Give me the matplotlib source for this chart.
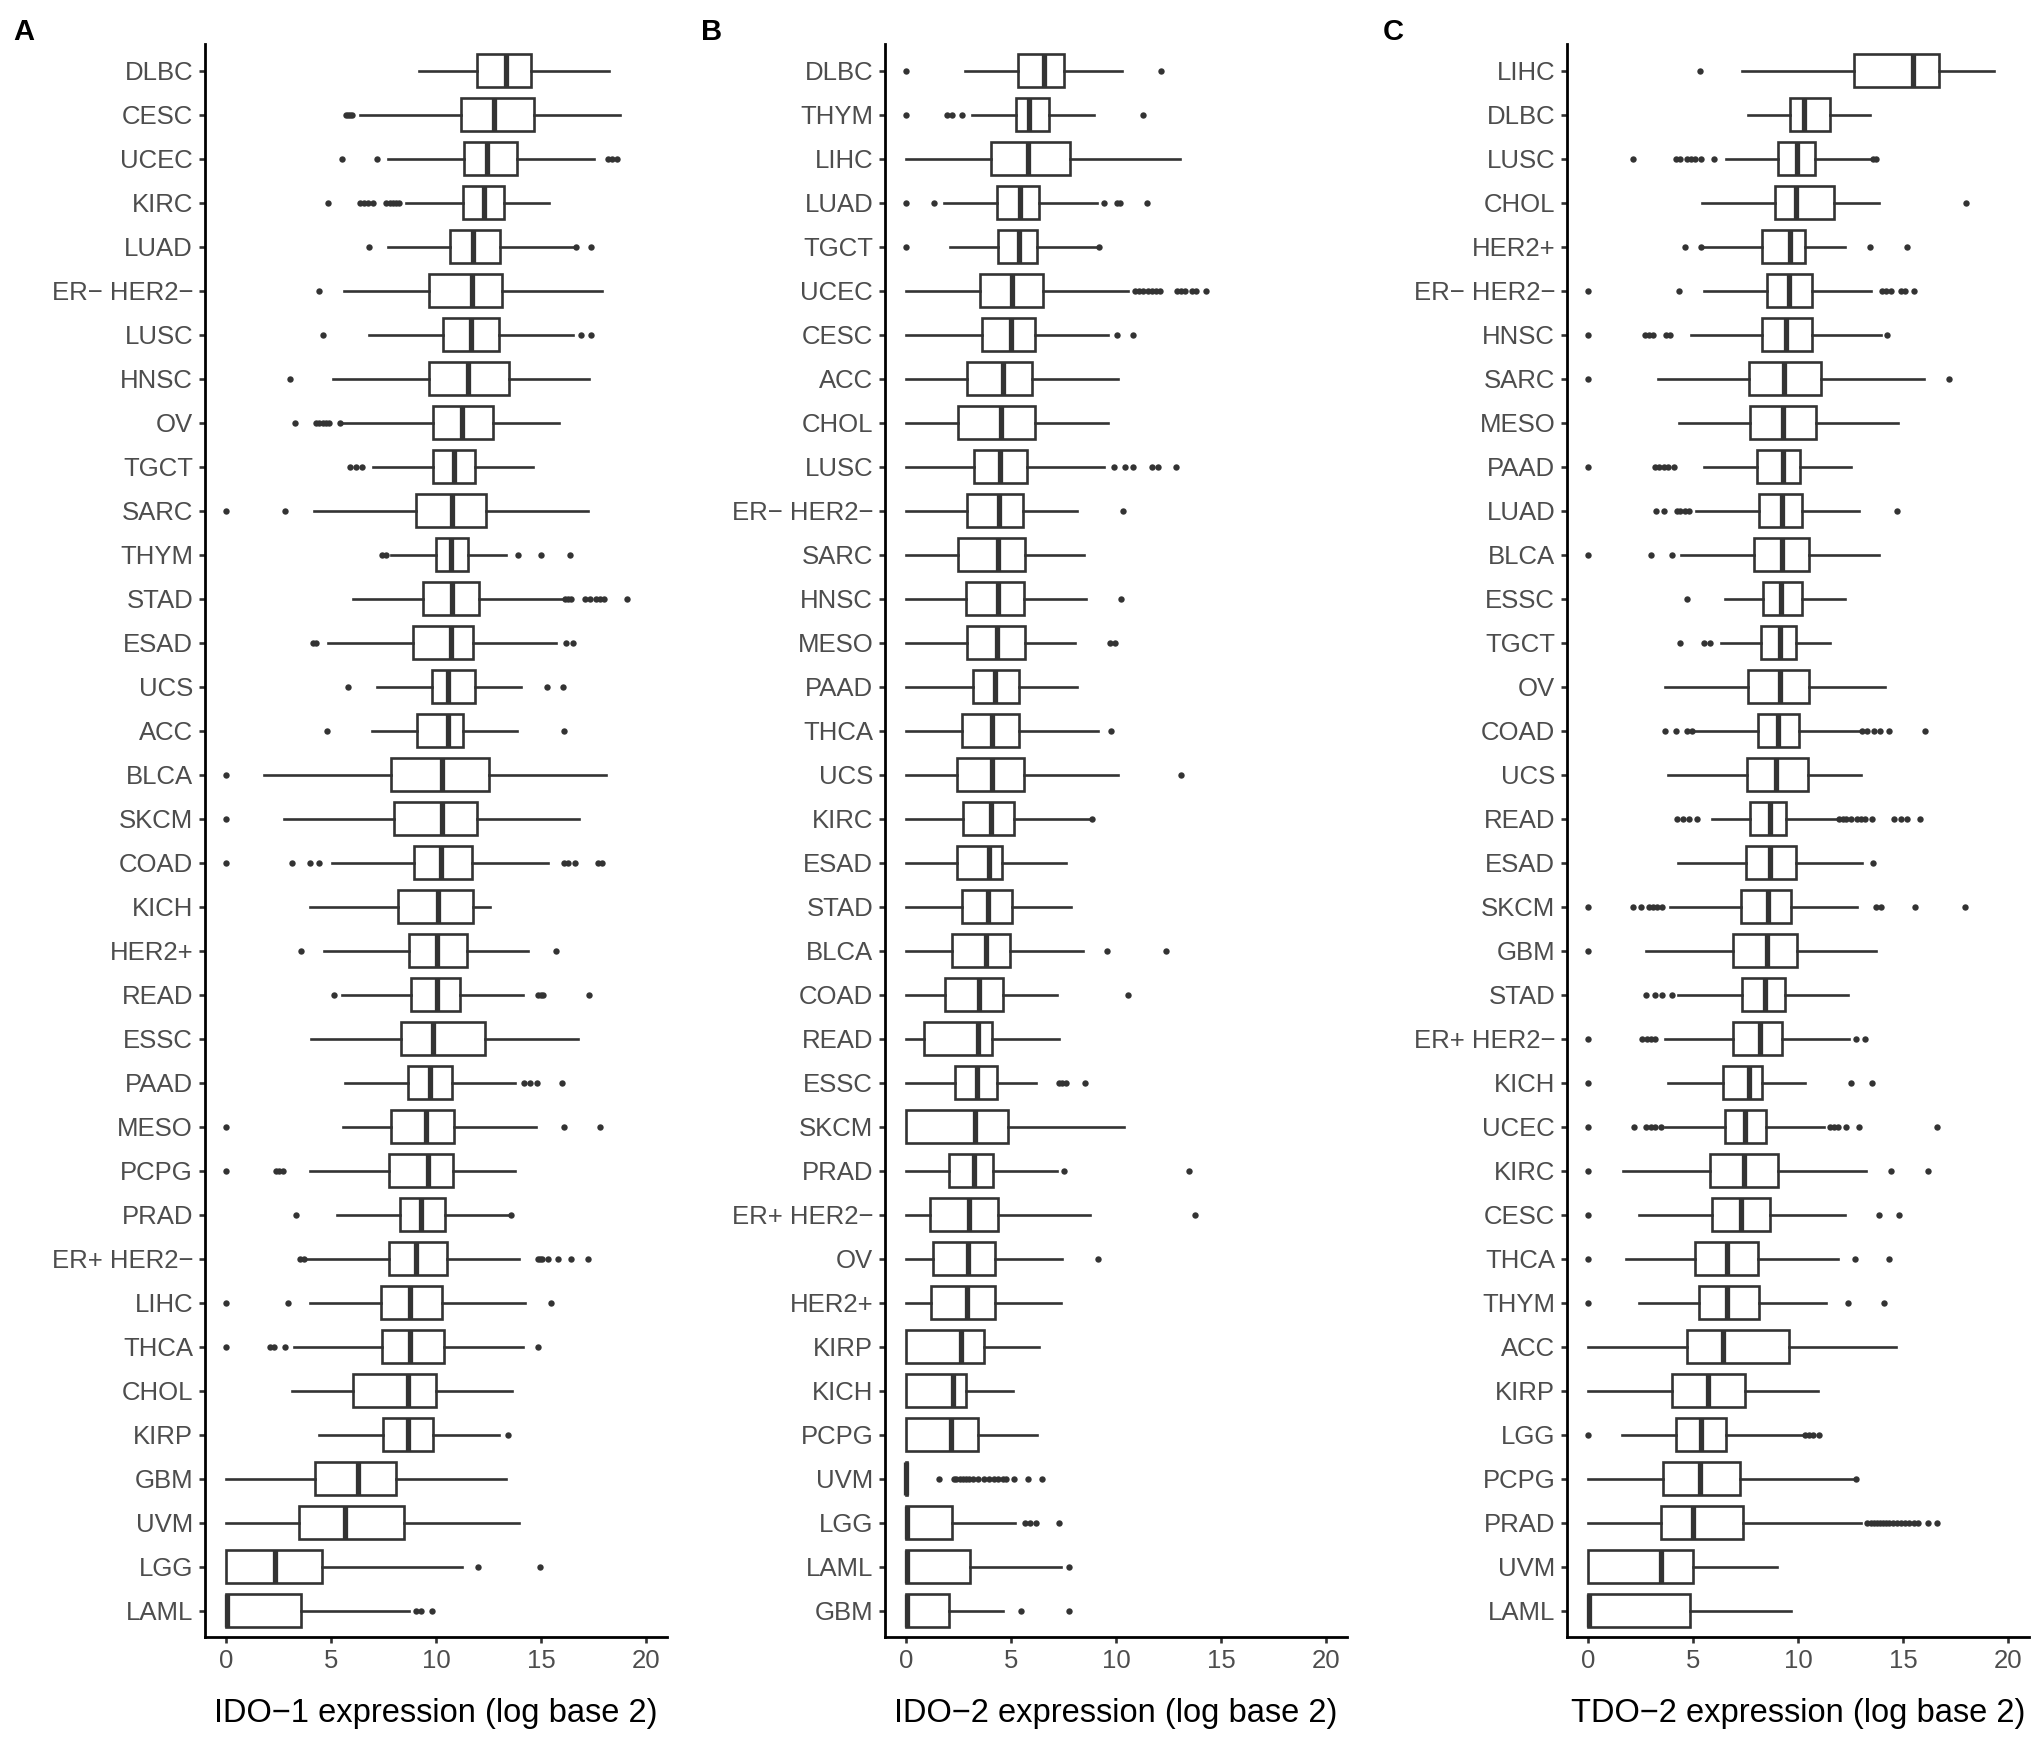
import matplotlib
matplotlib.use('Agg')
import matplotlib.pyplot as plt

plt.rcParams['font.family'] = ['Liberation Sans', 'DejaVu Sans']

# ======================
# data, categories listed top to bottom
# ======================
m = '\u2212'

# --- A: IDO-1 ---
cats_a = ['DLBC', 'CESC', 'UCEC', 'KIRC', 'LUAD', f'ER{m} HER2{m}', 'LUSC', 'HNSC', 'OV', 'TGCT',
          'SARC', 'THYM', 'STAD', 'ESAD', 'UCS', 'ACC', 'BLCA', 'SKCM', 'COAD', 'KICH',
          'HER2+', 'READ', 'ESSC', 'PAAD', 'MESO', 'PCPG', 'PRAD', f'ER+ HER2{m}', 'LIHC', 'THCA',
          'CHOL', 'KIRP', 'GBM', 'UVM', 'LGG', 'LAML']
lo_a = [9.18, 6.36, 7.7, 8.57, 7.7, 5.63, 6.81, 5.1, 5.57, 7.0, 4.19, 7.84, 6.05, 4.87, 7.2, 6.96,
        1.8, 2.75, 5.04, 3.98, 4.69, 5.53, 4.07, 5.68, 5.59, 4.02, 5.29, 3.71, 3.98, 3.25, 3.13, 4.44,
        0, 0, 0, 0]
q1_a = [11.95, 11.2, 11.35, 11.29, 10.65, 9.68, 10.34, 9.68, 9.87, 9.85, 9.04, 10.01, 9.39, 8.92,
        9.8, 9.08, 7.84, 8.0, 8.94, 8.17, 8.73, 8.83, 8.32, 8.65, 7.88, 7.75, 8.29, 7.77, 7.38, 7.42,
        6.04, 7.46, 4.25, 3.46, 0, 0]
med_a = [13.31, 12.76, 12.42, 12.28, 11.74, 11.7, 11.68, 11.52, 11.23, 10.86, 10.75, 10.73, 10.75,
         10.71, 10.57, 10.57, 10.3, 10.3, 10.22, 10.09, 10.03, 10.03, 9.85, 9.72, 9.51, 9.6, 9.29,
         9.06, 8.77, 8.77, 8.65, 8.65, 6.29, 5.67, 2.33, 0.05]
q3_a = [14.51, 14.67, 13.87, 13.25, 13.07, 13.15, 13.02, 13.46, 12.71, 11.85, 12.4, 11.52, 12.07,
        11.76, 11.87, 11.31, 12.53, 11.97, 11.7, 11.74, 11.5, 11.15, 12.32, 10.77, 10.84, 10.79,
        10.42, 10.52, 10.31, 10.4, 10.02, 9.85, 8.1, 8.46, 4.56, 3.56]
hi_a = [18.22, 18.78, 17.54, 15.38, 16.51, 17.92, 16.51, 17.28, 15.85, 14.61, 17.23, 13.35, 16.1,
        15.73, 14.06, 13.85, 18.1, 16.82, 15.31, 12.59, 14.39, 14.16, 16.78, 13.77, 14.74, 13.75,
        13.5, 13.96, 14.25, 14.15, 13.6, 13.02, 13.31, 13.96, 11.25, 8.71]
out_a = [[], [5.7, 5.8, 5.9, 6.0], [5.51, 7.18, 18.2, 18.4, 18.6],
         [4.85, 6.36, 6.55, 6.75, 7.0, 7.6, 7.8, 7.95, 8.1, 8.25], [6.83, 16.68, 17.38], [4.42],
         [4.64, 16.92, 17.38], [3.03], [3.28, 4.3, 4.45, 4.6, 4.75, 4.9, 5.45], [5.9, 6.2, 6.5],
         [0, 2.83], [7.43, 7.6, 13.89, 15.0, 16.37],
         [16.15, 16.3, 16.45, 17.1, 17.35, 17.6, 17.8, 18.0, 19.1], [4.15, 4.3, 16.2, 16.5],
         [5.82, 15.27, 16.06], [4.83, 16.1], [0], [0],
         [0, 3.14, 4.02, 4.44, 16.1, 16.3, 16.6, 17.7, 17.9], [], [3.57, 15.73],
         [5.14, 14.86, 15.0, 15.1, 17.28], [], [14.18, 14.49, 14.82, 16.02], [0, 16.1, 17.81],
         [0, 2.4, 2.55, 2.7], [3.33, 13.55],
         [3.55, 3.7, 14.85, 14.95, 15.05, 15.33, 15.83, 16.42, 17.25], [0, 2.96, 15.46],
         [0, 2.1, 2.3, 2.83, 14.85], [], [13.42], [], [], [12.02, 14.96], [9.06, 9.27, 9.8]]

# --- B: IDO-2 ---
cats_b = ['DLBC', 'THYM', 'LIHC', 'LUAD', 'TGCT', 'UCEC', 'CESC', 'ACC', 'CHOL', 'LUSC',
          f'ER{m} HER2{m}', 'SARC', 'HNSC', 'MESO', 'PAAD', 'THCA', 'UCS', 'KIRC', 'ESAD', 'STAD',
          'BLCA', 'COAD', 'READ', 'ESSC', 'SKCM', 'PRAD', f'ER+ HER2{m}', 'OV', 'HER2+', 'KIRP',
          'KICH', 'PCPG', 'UVM', 'LGG', 'LAML', 'GBM']
lo_b = [2.82, 3.14, 0, 1.79, 2.08, 0, 0, 0, 0, 0, 0, 0, 0, 0, 0, 0, 0, 0, 0, 0,
        0, 0, 0, 0, 0, 0, 0, 0, 0, 0, 0, 0, 0, 0, 0, 0]
q1_b = [5.32, 5.23, 4.07, 4.34, 4.36, 3.51, 3.63, 2.91, 2.47, 3.22, 2.91, 2.49, 2.87, 2.89, 3.18,
        2.68, 2.45, 2.72, 2.41, 2.66, 2.18, 1.85, 0.87, 2.33, 0, 2.04, 1.16, 1.31, 1.18, 0, 0, 0,
        0, 0, 0, 0]
med_b = [6.56, 5.88, 5.82, 5.44, 5.38, 5.05, 5.0, 4.61, 4.53, 4.49, 4.44, 4.4, 4.36, 4.34, 4.24,
         4.11, 4.09, 4.07, 3.95, 3.9, 3.82, 3.47, 3.41, 3.36, 3.3, 3.22, 2.99, 2.95, 2.91, 2.6,
         2.26, 2.16, 0, 0.05, 0.05, 0.05]
q3_b = [7.54, 6.79, 7.83, 6.33, 6.25, 6.52, 6.13, 5.98, 6.13, 5.75, 5.59, 5.65, 5.63, 5.65, 5.36,
        5.36, 5.63, 5.13, 4.57, 5.07, 4.94, 4.63, 4.11, 4.34, 4.86, 4.13, 4.4, 4.24, 4.24, 3.72,
        2.85, 3.41, 0.05, 2.18, 3.07, 2.04]
hi_b = [10.28, 8.95, 13.06, 9.1, 9.16, 10.55, 9.6, 10.09, 9.64, 9.41, 8.16, 8.47, 8.56, 8.04,
        8.12, 9.14, 10.09, 8.83, 7.64, 7.87, 8.43, 7.19, 7.27, 6.17, 10.38, 7.19, 8.76, 7.44, 7.39,
        6.33, 5.09, 6.23, 0.05, 5.21, 7.39, 4.63]
out_b = [[0, 12.13], [0, 1.95, 2.2, 2.66, 11.3], [], [0, 1.33, 9.41, 10.03, 10.2, 11.46],
         [0, 9.2], [10.9, 11.1, 11.3, 11.5, 11.7, 11.9, 12.1, 12.9, 13.1, 13.3, 13.6, 13.8, 14.3],
         [10.03, 10.82], [], [], [9.89, 10.45, 10.82, 11.69, 12.0, 12.84], [10.34], [],
         [10.22], [9.72, 9.97], [], [9.74], [13.08], [8.87], [], [], [9.57, 12.36], [10.57], [],
         [7.29, 7.45, 7.64, 8.52], [], [7.5, 13.46], [13.75], [9.14], [], [], [], [],
         [1.56, 2.28, 2.4, 2.55, 2.7, 2.85, 3.0, 3.2, 3.45, 3.7, 3.95, 4.2, 4.4, 4.6, 4.75, 5.15,
          5.82, 6.46],
         [5.67, 5.9, 6.19, 7.29], [7.77], [5.46, 7.75]]

# --- C: TDO-2 ---
cats_c = ['LIHC', 'DLBC', 'LUSC', 'CHOL', 'HER2+', f'ER{m} HER2{m}', 'HNSC', 'SARC', 'MESO', 'PAAD',
          'LUAD', 'BLCA', 'ESSC', 'TGCT', 'OV', 'COAD', 'UCS', 'READ', 'ESAD', 'SKCM', 'GBM',
          'STAD', f'ER+ HER2{m}', 'KICH', 'UCEC', 'KIRC', 'CESC', 'THCA', 'THYM', 'ACC', 'KIRP',
          'LGG', 'PCPG', 'PRAD', 'UVM', 'LAML']
lo_c = [7.31, 7.6, 6.56, 5.42, 5.45, 5.54, 4.92, 3.35, 4.31, 5.5, 5.15, 4.42, 6.52, 6.31, 3.65,
        5.06, 3.81, 5.88, 4.27, 3.88, 2.77, 4.29, 3.65, 3.81, 3.65, 1.65, 2.44, 1.81, 2.42, 0, 0,
        1.63, 0, 0, 0, 0]
q1_c = [12.67, 9.63, 9.02, 8.9, 8.29, 8.54, 8.27, 7.65, 7.73, 8.06, 8.15, 7.92, 8.35, 8.25, 7.6,
        8.08, 7.58, 7.73, 7.52, 7.27, 6.92, 7.31, 6.88, 6.42, 6.5, 5.79, 5.88, 5.1, 5.29, 4.71,
        4.0, 4.19, 3.56, 3.46, 0, 0]
med_c = [15.46, 10.27, 9.96, 9.9, 9.63, 9.56, 9.44, 9.33, 9.29, 9.29, 9.23, 9.23, 9.19, 9.13,
         9.13, 9.02, 8.96, 8.67, 8.67, 8.56, 8.5, 8.44, 8.17, 7.67, 7.48, 7.44, 7.27, 6.63, 6.63,
         6.42, 5.71, 5.38, 5.33, 4.98, 3.46, 0.05]
q3_c = [16.69, 11.5, 10.79, 11.69, 10.31, 10.67, 10.67, 11.1, 10.85, 10.08, 10.21, 10.5, 10.21,
        9.88, 10.5, 10.06, 10.48, 9.44, 9.92, 9.65, 9.96, 9.4, 9.23, 8.29, 8.48, 9.02, 8.65, 8.08,
        8.15, 9.56, 7.48, 6.58, 7.23, 7.38, 5.02, 4.85]
hi_c = [19.33, 13.42, 13.46, 13.83, 12.21, 13.46, 13.96, 15.98, 14.75, 12.54, 12.88, 13.83, 12.23,
        11.5, 14.13, 12.88, 12.98, 11.9, 13.02, 12.81, 13.71, 12.38, 12.42, 10.31, 11.25, 13.25,
        12.23, 11.92, 11.35, 14.65, 10.94, 10.21, 12.69, 12.98, 9.0, 9.67]
out_c = [[5.33], [], [2.13, 4.2, 4.4, 4.7, 4.9, 5.1, 5.4, 6.0, 13.55, 13.7], [18.0],
         [4.63, 5.38, 13.4, 15.17], [0, 4.33, 14.0, 14.2, 14.4, 14.9, 15.1, 15.5],
         [0, 2.7, 2.9, 3.1, 3.7, 3.9, 14.23], [0, 17.17], [], [0, 3.2, 3.4, 3.6, 3.8, 4.08],
         [3.23, 3.63, 4.23, 4.4, 4.6, 4.79, 14.69], [0, 2.98, 4.02], [4.69], [4.4, 5.54, 5.83],
         [], [3.65, 4.21, 4.71, 4.95, 13.04, 13.3, 13.6, 13.9, 14.33, 16.06], [],
         [4.23, 4.5, 4.8, 5.17, 11.95, 12.15, 12.3, 12.5, 12.8, 13.0, 13.2, 13.5, 14.58, 14.9,
          15.2, 15.8],
         [13.58], [0, 2.15, 2.5, 2.9, 3.1, 3.3, 3.5, 13.71, 13.96, 15.58, 17.94], [0],
         [2.77, 3.19, 3.5, 3.98], [0, 2.56, 2.8, 3.0, 3.2, 12.77, 13.19], [0, 12.5, 13.54],
         [0, 2.19, 2.77, 3.0, 3.2, 3.46, 11.5, 11.7, 11.9, 12.29, 12.88, 16.63],
         [0, 14.42, 16.17], [0, 13.83, 14.79], [0, 12.71, 14.33], [0, 12.38, 14.08], [], [],
         [0, 10.33, 10.5, 10.7, 11.0], [12.75],
         [13.3, 13.45, 13.6, 13.75, 13.9, 14.05, 14.2, 14.35, 14.5, 14.7, 14.9, 15.1, 15.3, 15.5,
          15.7, 16.2, 16.6],
         [], []]

# ======================
# drawing
# ======================
dark = '#333333'
tick_col = '#4D4D4D'


def draw_panel(ax, cats, lo, q1, med, q3, hi, fliers, xlabel):
    stats = []
    for i in range(len(cats)):
        stats.append(dict(whislo=lo[i], q1=q1[i], med=med[i], q3=q3[i], whishi=hi[i],
                          fliers=fliers[i], label=cats[i]))
    ax.bxp(stats, positions=range(len(cats)), widths=0.75, orientation='horizontal',
           patch_artist=True, showcaps=False,
           boxprops=dict(facecolor='white', edgecolor=dark, linewidth=1.9),
           whiskerprops=dict(color=dark, linewidth=1.9),
           medianprops=dict(color=dark, linewidth=3.8, solid_capstyle='butt'),
           flierprops=dict(marker='o', markerfacecolor=dark, markeredgecolor='none',
                           markersize=4.6))
    ax.set_ylim(len(cats) - 0.4, -0.6)
    ax.set_xlim(-1, 21)
    ax.set_xticks([0, 5, 10, 15, 20])
    ax.set_yticks(range(len(cats)))
    ax.set_yticklabels(cats)
    ax.tick_params(axis='both', labelsize=18.5, labelcolor=tick_col, color=dark,
                   length=4.5, width=1.9, pad=4)
    ax.spines['top'].set_visible(False)
    ax.spines['right'].set_visible(False)
    for s in ['left', 'bottom']:
        ax.spines[s].set_linewidth(2.0)
        ax.spines[s].set_color('black')
    ax.set_xlabel(xlabel, fontsize=23.5, color='black', labelpad=18)


fig = plt.figure(figsize=(20.33, 17.37), dpi=100)
ax_a = fig.add_axes([0.1008, 0.0576, 0.2273, 0.917])
ax_b = fig.add_axes([0.4353, 0.0576, 0.2273, 0.917])
ax_c = fig.add_axes([0.7708, 0.0576, 0.2273, 0.917])

draw_panel(ax_a, cats_a, lo_a, q1_a, med_a, q3_a, hi_a, out_a, f'IDO{m}1 expression (log base 2)')
draw_panel(ax_b, cats_b, lo_b, q1_b, med_b, q3_b, hi_b, out_b, f'IDO{m}2 expression (log base 2)')
draw_panel(ax_c, cats_c, lo_c, q1_c, med_c, q3_c, hi_c, out_c, f'TDO{m}2 expression (log base 2)')

for x, letter in [(0.0064, 'A'), (0.3448, 'B'), (0.680, 'C')]:
    fig.text(x, 1 - 32 / 1737, letter, fontsize=21, fontweight='bold', ha='left', va='center')

fig.savefig('out.png', dpi=100)
